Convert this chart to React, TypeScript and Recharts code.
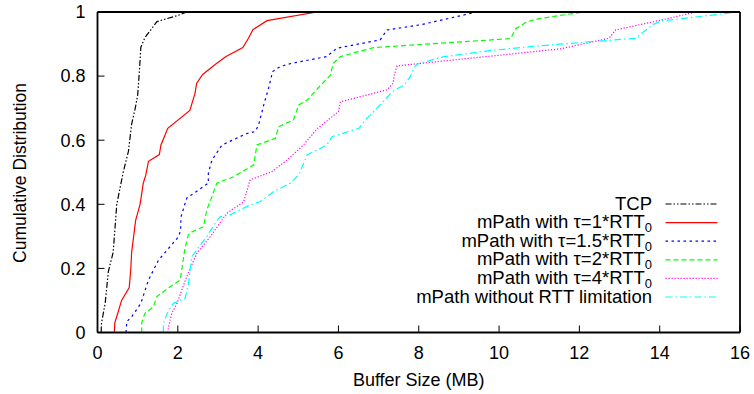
import React from 'react';
import { LineChart, Line, XAxis, YAxis, Legend, Customized } from 'recharts';

type Pt = { x: number; y: number };
const toPoints = (rows: number[][]): Pt[] => rows.map(([x, y]) => ({ x, y }));

// Buffer size (MB) vs cumulative fraction for each scheme
const tcpCdf = toPoints([
  [0.09, 0], [0.1, 0.03], [0.19, 0.09], [0.27, 0.19], [0.39, 0.25], [0.48, 0.4],
  [0.64, 0.5], [0.77, 0.565], [0.85, 0.65], [0.94, 0.7], [1.0, 0.74], [1.04, 0.81],
  [1.08, 0.89], [1.18, 0.92], [1.48, 0.97], [2.02, 0.99], [2.22, 1.0],
]);

const tau1Cdf = toPoints([
  [0.42, 0], [0.43, 0.03], [0.48, 0.05], [0.6, 0.1], [0.79, 0.14], [0.83, 0.2],
  [0.85, 0.25], [0.95, 0.35], [1.06, 0.4], [1.14, 0.466], [1.2, 0.49], [1.27, 0.534],
  [1.54, 0.555], [1.58, 0.585], [1.75, 0.637], [2.3, 0.693], [2.43, 0.747], [2.47, 0.778],
  [2.62, 0.805], [2.93, 0.836], [3.2, 0.861], [3.62, 0.889], [3.76, 0.918], [3.87, 0.945],
  [4.22, 0.973], [5.47, 1.0],
]);

const tau15Cdf = toPoints([
  [0.71, 0], [0.73, 0.034], [0.85, 0.049], [1.08, 0.091], [1.27, 0.164], [1.52, 0.226],
  [2.02, 0.299], [2.07, 0.32], [2.08, 0.361], [2.22, 0.419], [2.76, 0.466], [2.76, 0.497],
  [2.85, 0.538], [3.1, 0.585], [3.72, 0.621], [3.93, 0.627], [4.01, 0.647], [4.14, 0.71],
  [4.26, 0.762], [4.36, 0.814], [4.55, 0.83], [4.84, 0.84], [5.71, 0.861], [5.96, 0.887],
  [7.04, 0.913], [7.21, 0.944], [8.04, 0.96], [9.45, 1.0],
]);

const tau2Cdf = toPoints([
  [1.1, 0], [1.1, 0.03], [1.18, 0.06], [1.39, 0.08], [1.48, 0.112], [1.81, 0.143],
  [2.06, 0.164], [2.17, 0.257], [2.26, 0.304], [2.35, 0.314], [2.64, 0.33], [2.72, 0.382],
  [2.85, 0.424], [2.97, 0.466], [3.39, 0.486], [3.89, 0.523], [3.97, 0.585], [4.43, 0.606],
  [4.51, 0.642], [4.88, 0.663], [5.01, 0.71], [5.22, 0.725], [5.45, 0.757], [5.8, 0.803],
  [5.87, 0.84], [6.05, 0.861], [6.88, 0.889], [10.29, 0.917], [10.41, 0.947], [10.7, 0.97],
  [11.03, 0.98], [12.1, 1.0],
]);

const tau4Cdf = toPoints([
  [1.75, 0], [1.77, 0.018], [1.85, 0.06], [1.98, 0.091], [2.22, 0.174], [2.47, 0.247],
  [2.81, 0.299], [3.22, 0.372], [3.64, 0.408], [3.8, 0.476], [4.34, 0.502], [4.72, 0.538],
  [5.13, 0.585], [5.48, 0.637], [6.0, 0.689], [6.05, 0.72], [7.21, 0.757], [7.36, 0.778],
  [7.39, 0.803], [7.46, 0.832], [11.53, 0.885], [12.74, 0.918], [12.9, 0.944],
  [13.86, 0.97], [14.78, 0.996], [14.9, 1.0],
]);

const noLimitCdf = toPoints([
  [1.64, 0], [1.64, 0.029], [1.77, 0.07], [1.89, 0.091], [2.18, 0.107], [2.26, 0.148],
  [2.35, 0.237], [2.56, 0.273], [2.72, 0.299], [2.93, 0.341], [3.05, 0.361], [3.3, 0.367],
  [3.8, 0.398], [4.05, 0.408], [4.38, 0.439], [4.8, 0.466], [5.01, 0.491], [5.22, 0.554],
  [5.71, 0.585], [5.84, 0.611], [6.51, 0.637], [6.67, 0.663], [7.04, 0.71], [7.34, 0.752],
  [7.63, 0.772], [7.79, 0.798], [7.88, 0.824], [7.96, 0.837], [8.6, 0.86], [9.8, 0.88],
  [11.04, 0.895], [13.4, 0.918], [13.82, 0.96], [14.03, 0.972], [15.7, 0.996], [15.8, 1.0],
]);

const xTicks = [0, 2, 4, 6, 8, 10, 12, 14, 16];
const yTicks = [0, 0.2, 0.4, 0.6, 0.8, 1];

const FONT = '"Liberation Sans", Arial, Helvetica, sans-serif';
const FS = 18;
const LEGEND_FS = 18.5;

// The TCP curve is plotted against the mirrored (top/right) axes, which share
// the same domains, so the frame is closed on all four sides with inner ticks.
const series = [
  { key: 'tcp', name: 'TCP', sub: '', color: '#000000', dash: '6 2 1.5 2 1.5 2', data: tcpCdf, xId: 'top', yId: 'right' },
  { key: 't1', name: 'mPath with \u03c4=1*RTT', sub: '0', color: '#ff0000', dash: '', data: tau1Cdf, xId: 'bottom', yId: 'left' },
  { key: 't15', name: 'mPath with \u03c4=1.5*RTT', sub: '0', color: '#0000ff', dash: '2.5 3.5', data: tau15Cdf, xId: 'bottom', yId: 'left' },
  { key: 't2', name: 'mPath with \u03c4=2*RTT', sub: '0', color: '#00ff00', dash: '5 3', data: tau2Cdf, xId: 'bottom', yId: 'left' },
  { key: 't4', name: 'mPath with \u03c4=4*RTT', sub: '0', color: '#ff00ff', dash: '1.2 1.8', data: tau4Cdf, xId: 'bottom', yId: 'left' },
  { key: 'nl', name: 'mPath without RTT limitation', sub: '', color: '#00ffff', dash: '7 3 1.5 3', data: noLimitCdf, xId: 'bottom', yId: 'left' },
];

const LegendBox = () => (
  <svg width={310} height={120} style={{ overflow: 'visible', display: 'block' }}>
    {series.map((s, i) => {
      const y = 10 + i * 18.6;
      return (
        <g key={s.key}>
          <text x={230} y={y + 5.5} textAnchor="end" fontSize={LEGEND_FS} fontFamily={FONT} fill="#000">
            {s.name}
            {s.sub ? (
              <tspan dy={4} fontSize={13}>
                {s.sub}
              </tspan>
            ) : null}
          </text>
          <line
            x1={243.5}
            x2={295.5}
            y1={y}
            y2={y}
            stroke={s.color}
            strokeWidth={1.2}
            strokeDasharray={s.dash || undefined}
          />
        </g>
      );
    })}
  </svg>
);

const AxisTitles = () => (
  <g fontFamily={FONT} fontSize={FS} fill="#000">
    <text x={418.75} y={385.5} textAnchor="middle">
      Buffer Size (MB)
    </text>
    <text x={25.5} y={173} textAnchor="middle" transform="rotate(-90 25.5 173)" fontSize={17.5}>
      Cumulative Distribution
    </text>
  </g>
);

const tickStyle = { fontSize: FS, fontFamily: FONT, fill: '#000' };
const frame = { stroke: '#000', strokeWidth: 1.8 };
const tickMark = { stroke: '#000', strokeWidth: 1 };

export default function App() {
  return (
    <div style={{ position: 'fixed', left: 0, top: 0, width: 754, height: 394, background: '#fff' }}>
      <style>{'html,body{overflow:hidden;background:#fff}'}</style>
      <LineChart width={754} height={394} margin={{ top: 11, right: 13, bottom: 21.5, left: 37.5 }}>
        <XAxis
          xAxisId="bottom"
          dataKey="x"
          type="number"
          domain={[0, 16]}
          ticks={xTicks}
          allowDataOverflow
          height={40}
          orientation="bottom"
          axisLine={frame}
          tickLine={tickMark}
          tickSize={-7}
          tickMargin={21}
          tick={tickStyle}
        />
        <XAxis
          xAxisId="top"
          dataKey="x"
          type="number"
          domain={[0, 16]}
          ticks={xTicks}
          allowDataOverflow
          height={1}
          orientation="top"
          axisLine={frame}
          tickLine={tickMark}
          tickSize={-7}
          tick={false}
        />
        <YAxis
          yAxisId="left"
          type="number"
          domain={[0, 1]}
          ticks={yTicks}
          allowDataOverflow
          width={60}
          orientation="left"
          axisLine={frame}
          tickLine={tickMark}
          tickSize={-7}
          tickMargin={19}
          tick={tickStyle}
        />
        <YAxis
          yAxisId="right"
          type="number"
          domain={[0, 1]}
          ticks={yTicks}
          allowDataOverflow
          width={1}
          orientation="right"
          axisLine={frame}
          tickLine={tickMark}
          tickSize={-7}
          tick={false}
        />
        {series.map((s) => (
          <Line
            key={s.key}
            xAxisId={s.xId}
            yAxisId={s.yId}
            data={s.data}
            dataKey="y"
            name={s.name}
            type="linear"
            stroke={s.color}
            strokeWidth={1.2}
            strokeDasharray={s.dash || undefined}
            dot={false}
            activeDot={false}
            isAnimationActive={false}
          />
        ))}
        <Legend
          layout="vertical"
          align="center"
          verticalAlign="middle"
          content={<LegendBox />}
          wrapperStyle={{ position: 'absolute', left: 421.5, top: 194.3, width: 310, height: 120 }}
        />
        <Customized component={AxisTitles} />
      </LineChart>
    </div>
  );
}
